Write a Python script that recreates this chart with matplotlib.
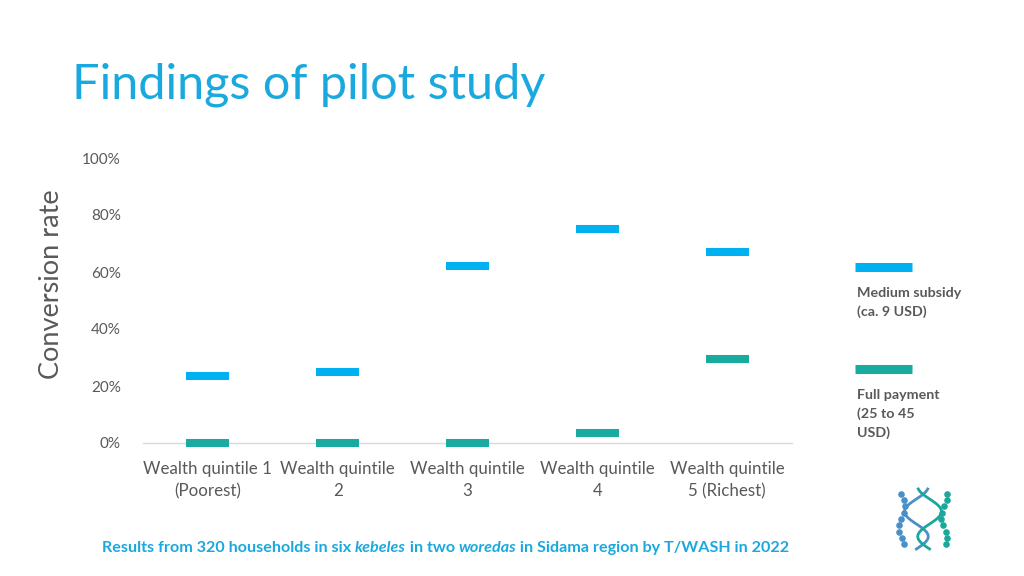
import matplotlib
matplotlib.use("Agg")
import matplotlib.pyplot as plt
from matplotlib.lines import Line2D
import numpy as np

categories = ["Wealth quintile 1\n(Poorest)", "Wealth quintile\n2", "Wealth quintile\n3",
              "Wealth quintile\n4", "Wealth quintile\n5 (Richest)"]
medium_subsidy = [0.235, 0.25, 0.62, 0.75, 0.67]
full_payment = [0.0, 0.0, 0.0, 0.035, 0.295]
yticks = [0, 0.2, 0.4, 0.6, 0.8, 1.0]
ytick_labels = ["0%", "20%", "40%", "60%", "80%", "100%"]

BLUE = "#00B0F0"
TEAL = "#19ABA0"
GRAY = "#595959"
TITLE = "#19A9DF"
FONT = ["Lato", "DejaVu Sans"]
plt.rcParams["font.family"] = FONT

W, H = 1024, 576
fig = plt.figure(figsize=(W / 100, H / 100), dpi=100)
ax = fig.add_axes([143 / W, 1 - 443 / H, (792 - 143) / W, (443 - 158) / H])

x = np.arange(len(categories))
half = 0.165
ax.hlines(medium_subsidy, x - half, x + half, colors=BLUE, lw=5.8, capstyle="butt", clip_on=False, zorder=3)
ax.hlines(full_payment, x - half, x + half, colors=TEAL, lw=5.8, capstyle="butt", clip_on=False, zorder=3)

ax.set_xlim(-0.5, len(categories) - 0.5)
ax.set_ylim(0, 1)
ax.set_yticks(yticks)
ax.set_yticklabels(ytick_labels, color=GRAY, fontsize=11)
ax.set_xticks(x)
ax.set_xticklabels(categories, color=GRAY, fontsize=12.2, linespacing=1.45)
ax.tick_params(length=0, pad=16)
ax.tick_params(axis="x", pad=13)
for s in ["top", "right", "left"]:
    ax.spines[s].set_visible(False)
ax.spines["bottom"].set_color("#D9D9D9")
ax.spines["bottom"].set_linewidth(1)
ax.set_facecolor("none")

fig.text(52 / W, 1 - 284 / H, "Conversion rate", rotation=90, ha="center", va="center",
         fontsize=19.5, color=GRAY)

fig.text(72 / W, 1 - 85 / H, "Findings of pilot study", ha="left", va="center",
         fontsize=35, color=TITLE)

# legend
for yy, c in [(267, BLUE), (369, TEAL)]:
    fig.add_artist(Line2D([855 / W, 912 / W], [1 - yy / H, 1 - yy / H], color=c, lw=6.5,
                          solid_capstyle="butt"))
fig.text(857 / W, 1 - 287 / H, "Medium subsidy\n(ca. 9 USD)", ha="left", va="top",
         fontsize=10.3, color=GRAY, fontweight="bold", linespacing=1.6)
fig.text(857 / W, 1 - 389 / H, "Full payment\n(25 to 45\nUSD)", ha="left", va="top",
         fontsize=10.3, color=GRAY, fontweight="bold", linespacing=1.6)

# footer with italic parts
pieces = [("Results from 320 households in six ", "normal"), ("kebeles", "italic"),
          (" in two ", "normal"), ("woredas", "italic"),
          (" in Sidama region by T/WASH in 2022", "normal")]
fig.canvas.draw()
renderer = fig.canvas.get_renderer()
xpos = 102
for txt, style in pieces:
    t = fig.text(xpos / W, 1 - 548 / H, txt, ha="left", va="center", fontsize=11.6,
                 color=TITLE, fontweight="bold", fontstyle=style)
    bb = t.get_window_extent(renderer=renderer)
    xpos += bb.width

# small decorative DNA logo
lg = fig.add_axes([890 / W, 1 - 552 / H, 66 / W, 66 / H])
lg.set_axis_off()
tt = np.linspace(0, 1, 60)
lg.plot(0.5 + 0.18 * np.sin(tt * 2 * np.pi * 1.2) - 0.1, tt, color="#4A90C8", lw=2)
lg.plot(0.5 - 0.18 * np.sin(tt * 2 * np.pi * 1.2) + 0.1, tt, color="#1AA89A", lw=2)
dots_t = np.linspace(0.08, 0.92, 9)
lg.scatter(0.5 - 0.32 + 0.05 * np.cos(dots_t * 9), dots_t, s=14, color="#4A90C8")
lg.scatter(0.5 + 0.32 + 0.05 * np.sin(dots_t * 9), dots_t, s=14, color="#1AA89A")
lg.set_xlim(0, 1)
lg.set_ylim(-0.05, 1.05)

fig.savefig("out.png", dpi=100)
